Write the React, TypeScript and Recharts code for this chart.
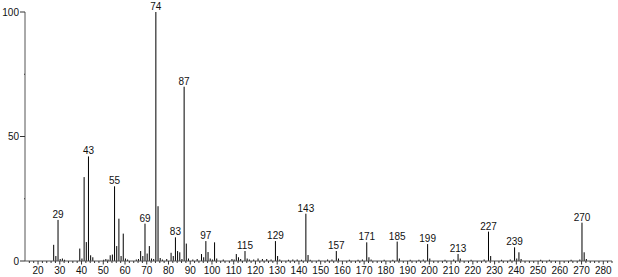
import React from "react";
import { ComposedChart, Bar, XAxis, YAxis, LabelList } from "recharts";

// m/z values and relative intensities (%)
const mz = [
  27, 28, 29, 30, 31, 32, 39, 40, 41, 42, 43, 44, 45, 50, 51, 52, 53, 54, 55, 56, 57, 58, 59, 60, 61,
  65, 66, 67, 68, 69, 70, 71, 72, 73, 74, 75, 76, 77, 79, 81, 82, 83, 84, 85, 86, 87, 88, 89, 91, 93,
  95, 96, 97, 98, 99, 100, 101, 102, 105, 109, 110, 111, 112, 113, 115, 116, 117, 119, 121, 123, 125,
  127, 129, 130, 131, 135, 137, 139, 141, 143, 144, 145, 149, 153, 155, 157, 158, 163, 167, 169, 171,
  172, 173, 179, 183, 185, 186, 191, 195, 197, 199, 200, 207, 211, 213, 214, 219, 225, 227, 228, 233,
  237, 239, 240, 241, 242, 251, 255, 265, 269, 270, 271, 272,
];
const intensity = [
  6.5, 2, 16.5, 0.8, 1, 0.5, 5, 1, 33.7, 7.6, 42, 2.3, 1.5, 0.5, 0.8, 0.6, 2.3, 2.6, 30, 6, 17, 2, 11, 1, 0.6,
  0.6, 0.8, 4, 2, 15, 3, 6, 1, 0.8, 100, 22, 1.2, 0.6, 0.8, 3.3, 2, 9.5, 4, 3.5, 0.8, 70, 7, 1, 0.6, 0.8,
  2.8, 1.5, 8, 3.6, 1, 0.6, 7.5, 1, 0.6, 0.8, 0.6, 2.8, 1.5, 0.8, 4, 1, 0.6, 0.6, 1, 0.8, 0.8,
  0.6, 8, 2, 0.6, 0.5, 0.6, 0.6, 0.5, 19, 2.4, 0.5, 0.5, 0.6, 0.6, 4, 1, 0.5, 0.5, 0.6, 7.5,
  1.5, 0.6, 0.5, 0.5, 7.8, 1, 0.5, 0.5, 0.6, 6.8, 1, 0.5, 0.6, 2.8, 1, 0.5, 0.6, 11.8, 2, 0.5,
  0.6, 5.5, 1, 3.5, 0.8, 0.5, 0.5, 0.5, 0.6, 15.4, 3.5, 0.8,
];
const labeledPeaks = [29, 43, 55, 69, 74, 83, 87, 97, 115, 129, 143, 157, 171, 185, 199, 213, 227, 239, 270];

const xTicks: number[] = [];
for (let v = 16; v <= 284; v += 2) xTicks.push(v);
const yTicks = [0, 25, 50, 75, 100];

const data = mz.map((m, i) => ({
  mz: m,
  value: intensity[i],
  label: labeledPeaks.includes(m) ? String(m) : "",
}));

const FONT = "'Liberation Sans', Arial, sans-serif";

const XTick = ({ x, y, payload }: any) => {
  const major = payload.value % 10 === 0;
  return (
    <g>
      <line x1={x} x2={x} y1={y} y2={y + (major ? 3.5 : 2)} stroke="#333" strokeWidth={1} />
      {major && (
        <text x={x} y={y + 13} textAnchor="middle" fontSize={10} fontFamily={FONT} fill="#111">
          {payload.value}
        </text>
      )}
    </g>
  );
};

const YTick = ({ x, y, payload }: any) => {
  const major = payload.value % 50 === 0;
  return (
    <g>
      <line x1={x - (major ? 5 : 1)} x2={x} y1={y} y2={y} stroke="#333" strokeWidth={1} />
      {major && (
        <text x={x - 6} y={y + 3.5} textAnchor="end" fontSize={10} fontFamily={FONT} fill="#111">
          {payload.value}
        </text>
      )}
    </g>
  );
};

const Stick = (p: any) => (
  <rect x={p.x + p.width / 2 - 0.5} y={p.y} width={1} height={p.height} fill="#000" />
);

export default function App() {
  return (
    <div style={{ position: "absolute", left: 0, top: 0, background: "#fff" }}>
      <ComposedChart
        width={618}
        height={277}
        data={data}
        margin={{ top: 12, right: 6, bottom: 0, left: 0 }}
      >
        <XAxis
          dataKey="mz"
          type="number"
          domain={[14, 284]}
          ticks={xTicks}
          interval={0}
          height={16}
          tickSize={0}
          tickMargin={0}
          tickLine={false}
          tick={<XTick />}
          axisLine={{ stroke: "#555" }}
          allowDataOverflow
        />
        <YAxis
          type="number"
          domain={[0, 100]}
          ticks={yTicks}
          interval={0}
          width={25}
          tickSize={0}
          tickMargin={0}
          tickLine={false}
          tick={<YTick />}
          axisLine={{ stroke: "#555" }}
        />
        <Bar dataKey="value" barSize={1} shape={<Stick />} isAnimationActive={false}>
          <LabelList
            dataKey="label"
            position="top"
            offset={2}
            fontSize={10}
            fontFamily={FONT}
            fill="#111"
          />
        </Bar>
      </ComposedChart>
    </div>
  );
}
